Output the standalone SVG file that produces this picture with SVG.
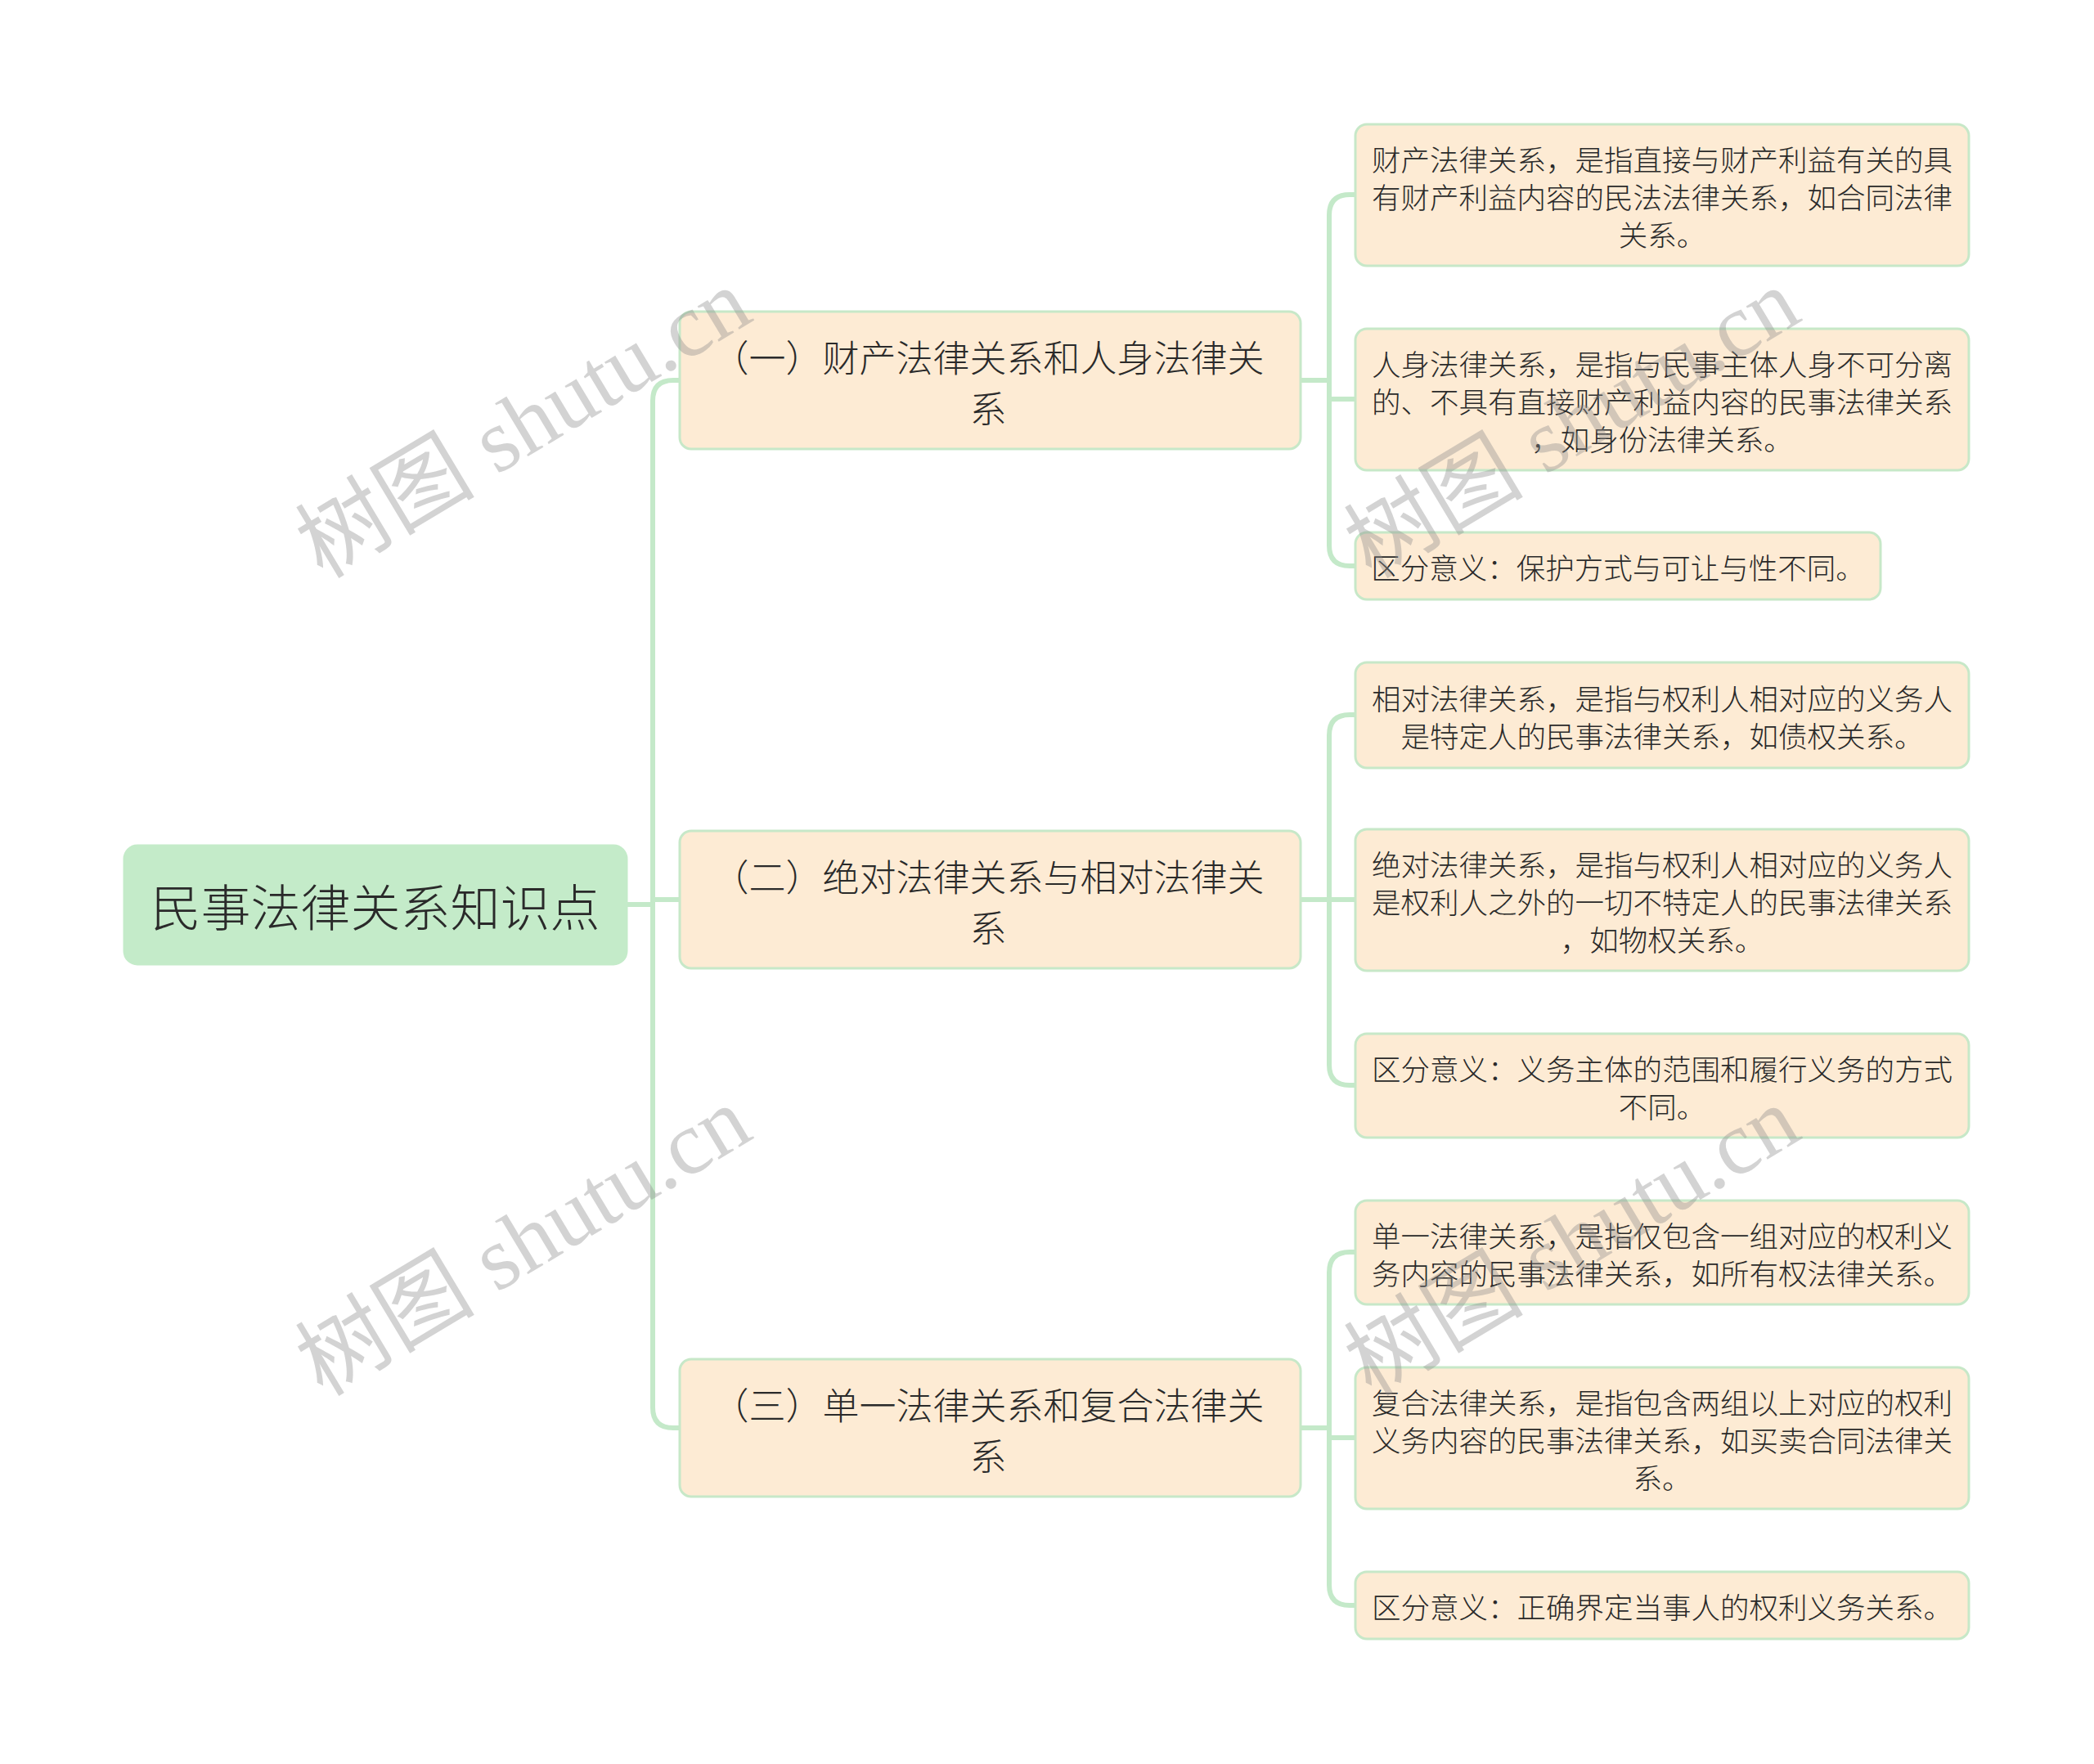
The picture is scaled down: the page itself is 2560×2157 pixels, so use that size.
<svg xmlns="http://www.w3.org/2000/svg" width="2560" height="2157" viewBox="0 0 2560 2157">
<style>
.bg{fill:#ffffff}
.conn{fill:none;stroke:#c4e9c9;stroke-width:6;stroke-linecap:round}
.root{fill:#c4ebc9;stroke:#c4ebc9;stroke-width:3}
.box{fill:#fdebd4;stroke:#c7e8c8;stroke-width:3}
.t{font-family:"Noto Sans CJK SC","Noto Sans",sans-serif;font-weight:300;fill:#2a2a2a;text-anchor:middle;dominant-baseline:central}
.t0{font-size:61px}
.t1{font-size:45px}
.t2{font-size:35.5px}
.wm{font-family:"Liberation Serif","Noto Sans CJK SC",serif;font-size:110px;fill:#8c8c8c;fill-opacity:0.38}
</style>
<rect class="bg" x="0" y="0" width="2560" height="2157"/>
<g id="connectors">
<path class="conn" d="M766,1106 H798"/>
<path class="conn" d="M798,1106 V490 Q798,465 823,465 H831"/>
<path class="conn" d="M798,1100 H831"/>
<path class="conn" d="M798,1106 V1721 Q798,1746 823,1746 H831"/>
<path class="conn" d="M1590,465 H1625"/>
<path class="conn" d="M1625,465 V263 Q1625,238 1650,238 H1657"/>
<path class="conn" d="M1625,465 V488 H1657"/>
<path class="conn" d="M1625,465 V667 Q1625,692 1650,692 H1657"/>
<path class="conn" d="M1590,1100 H1625"/>
<path class="conn" d="M1625,1100 V899 Q1625,874 1650,874 H1657"/>
<path class="conn" d="M1625,1100 H1657"/>
<path class="conn" d="M1625,1100 V1302 Q1625,1327 1650,1327 H1657"/>
<path class="conn" d="M1590,1746 H1625"/>
<path class="conn" d="M1625,1746 V1556 Q1625,1531 1650,1531 H1657"/>
<path class="conn" d="M1625,1746 V1758 H1657"/>
<path class="conn" d="M1625,1746 V1938 Q1625,1963 1650,1963 H1657"/>
</g>
<g id="root">
<rect class="root" x="152" y="1034" width="614" height="145" rx="16"/>
<text class="t t0" x="459" y="1106">民事法律关系知识点</text>
</g>
<g id="n1">
<rect class="box" x="831" y="381" width="759" height="168" rx="14"/>
<text class="t t1" x="1208" y="435">（一）财产法律关系和人身法律关</text>
<text class="t t1" x="1208" y="497">系</text>
</g>
<g id="n2">
<rect class="box" x="831" y="1016" width="759" height="168" rx="14"/>
<text class="t t1" x="1208" y="1070">（二）绝对法律关系与相对法律关</text>
<text class="t t1" x="1208" y="1132">系</text>
</g>
<g id="n3">
<rect class="box" x="831" y="1662" width="759" height="168" rx="14"/>
<text class="t t1" x="1208" y="1716">（三）单一法律关系和复合法律关</text>
<text class="t t1" x="1208" y="1778">系</text>
</g>
<g id="n1a">
<rect class="box" x="1657" y="152" width="750" height="173" rx="14"/>
<text class="t t2" x="2032" y="193">财产法律关系，是指直接与财产利益有关的具</text>
<text class="t t2" x="2032" y="239">有财产利益内容的民法法律关系，如合同法律</text>
<text class="t t2" x="2032" y="285">关系。</text>
</g>
<g id="n1b">
<rect class="box" x="1657" y="402" width="750" height="173" rx="14"/>
<text class="t t2" x="2032" y="443">人身法律关系，是指与民事主体人身不可分离</text>
<text class="t t2" x="2032" y="489">的、不具有直接财产利益内容的民事法律关系</text>
<text class="t t2" x="2032" y="535">，如身份法律关系。</text>
</g>
<g id="n1c">
<rect class="box" x="1657" y="651" width="642" height="82" rx="14"/>
<text class="t t2" x="1978" y="692">区分意义：保护方式与可让与性不同。</text>
</g>
<g id="n2a">
<rect class="box" x="1657" y="810" width="750" height="129" rx="14"/>
<text class="t t2" x="2032" y="852">相对法律关系，是指与权利人相对应的义务人</text>
<text class="t t2" x="2032" y="898">是特定人的民事法律关系，如债权关系。</text>
</g>
<g id="n2b">
<rect class="box" x="1657" y="1014" width="750" height="173" rx="14"/>
<text class="t t2" x="2032" y="1055">绝对法律关系，是指与权利人相对应的义务人</text>
<text class="t t2" x="2032" y="1101">是权利人之外的一切不特定人的民事法律关系</text>
<text class="t t2" x="2032" y="1147">，如物权关系。</text>
</g>
<g id="n2c">
<rect class="box" x="1657" y="1264" width="750" height="127" rx="14"/>
<text class="t t2" x="2032" y="1305">区分意义：义务主体的范围和履行义务的方式</text>
<text class="t t2" x="2032" y="1351">不同。</text>
</g>
<g id="n3a">
<rect class="box" x="1657" y="1468" width="750" height="127" rx="14"/>
<text class="t t2" x="2032" y="1509">单一法律关系，是指仅包含一组对应的权利义</text>
<text class="t t2" x="2032" y="1555">务内容的民事法律关系，如所有权法律关系。</text>
</g>
<g id="n3b">
<rect class="box" x="1657" y="1672" width="750" height="173" rx="14"/>
<text class="t t2" x="2032" y="1713">复合法律关系，是指包含两组以上对应的权利</text>
<text class="t t2" x="2032" y="1759">义务内容的民事法律关系，如买卖合同法律关</text>
<text class="t t2" x="2032" y="1805">系。</text>
</g>
<g id="n3c">
<rect class="box" x="1657" y="1922" width="750" height="82" rx="14"/>
<text class="t t2" x="2032" y="1963">区分意义：正确界定当事人的权利义务关系。</text>
</g>
<g id="watermarks">
<text class="wm" transform="translate(640,518) rotate(-31)" text-anchor="middle" dominant-baseline="central">树图 shutu.cn</text>
<text class="wm" transform="translate(640,1518) rotate(-31)" text-anchor="middle" dominant-baseline="central">树图 shutu.cn</text>
<text class="wm" transform="translate(1922,518) rotate(-31)" text-anchor="middle" dominant-baseline="central">树图 shutu.cn</text>
<text class="wm" transform="translate(1922,1518) rotate(-31)" text-anchor="middle" dominant-baseline="central">树图 shutu.cn</text>
</g>
</svg>
